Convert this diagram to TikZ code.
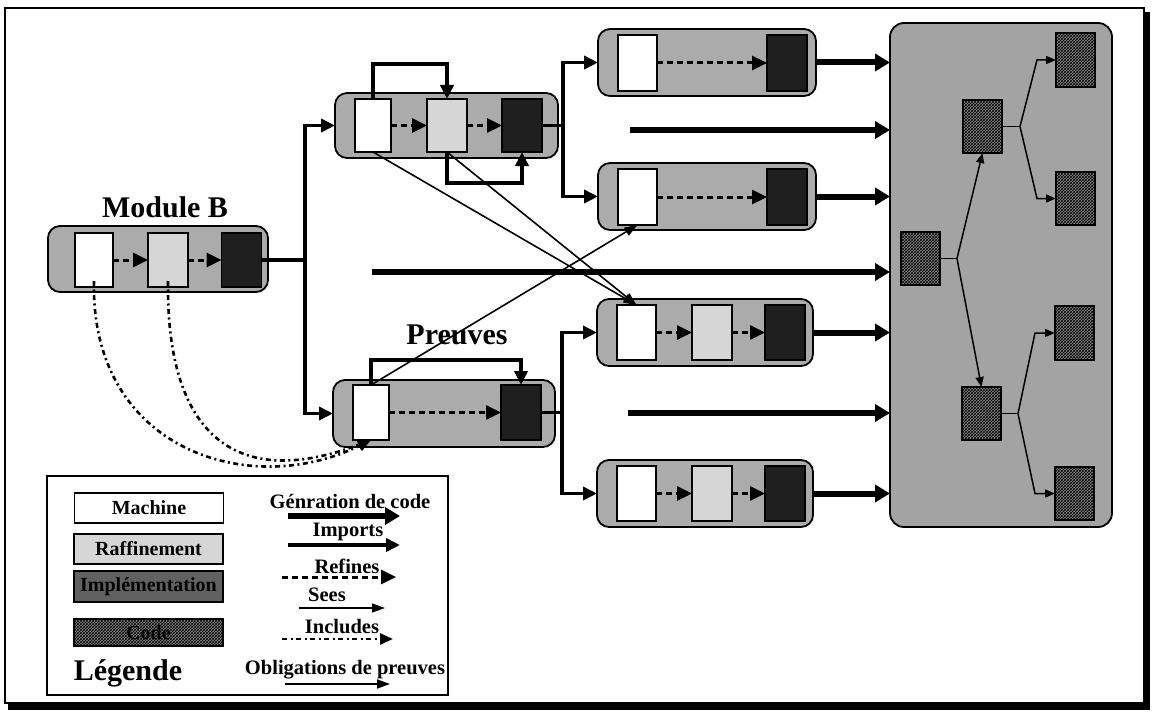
\documentclass[tikz,border=0pt]{standalone}
\usepackage{fontspec}
\setmainfont{Liberation Serif}
\usetikzlibrary{arrows.meta,patterns}
\begin{document}
\begin{tikzpicture}[x=1pt,y=-1pt,
 every node/.style={inner sep=0pt,outer sep=0pt},
 modbox/.style={draw,line width=1.8pt,rounded corners=12pt,fill=black!33},
 mach/.style={draw,line width=1.3pt,fill=white,minimum width=38pt,minimum height=54pt},
 refb/.style={draw,line width=1.3pt,fill=black!16,minimum width=40pt,minimum height=54pt},
 implb/.style={draw,line width=1.3pt,fill=black!88,minimum width=40pt,minimum height=54pt},
 codeb/.style={draw,line width=1.6pt,fill=black!45,postaction={pattern=crosshatch,pattern color=black},minimum width=39pt,minimum height=53pt},
 biglab/.style={font=\bfseries\fontsize{30}{33}\selectfont},
 leglab/.style={font=\bfseries\fontsize{20.5}{23}\selectfont},
 gen/.style={line width=6pt,-{Triangle[length=15pt,width=17pt]}},
 imp/.style={line width=3.5pt},
 impa/.style={imp,-{Triangle[length=14pt,width=13pt]}},
 refl/.style={line width=3pt,dash pattern=on 6pt off 4pt,-{Triangle[length=15pt,width=14pt]}},
 sees/.style={line width=1.6pt,-{Triangle[length=13pt,width=9pt]}},
 incl/.style={line width=2.6pt,dash pattern=on 5pt off 3.5pt on 2pt off 3.5pt,-{Triangle[length=13pt,width=11pt]}},
 cl/.style={line width=1.5pt},
 cla/.style={cl,-{Triangle[length=10pt,width=8pt]}},
 obl/.style={line width=1.8pt,-{Triangle[length=13pt,width=9pt]}}
]
\useasboundingbox (0,0) rectangle (1152,717);
% frame
\draw[line width=1.5pt] (5,8) rectangle (1144,703);
\draw[line width=5pt] (1147,12) -- (1147,709);
\draw[line width=6pt] (8,707) -- (1150,707);

% Module B
\node[biglab] (lblB) at (165,207) {Module B};
\node[modbox,minimum width=220pt,minimum height=66pt] (B) at (158,259) {};
\node[mach] (Bm) at (94,260) {};
\node[refb] (Br) at (168,260) {};
\node[implb] (Bi) at (241.5,260) {};
\draw[refl] (Bm.east) -- (Br.west);
\draw[refl] (Br.east) -- (Bi.west);

% Module M1
\node[modbox,minimum width=223pt,minimum height=65pt] (M1) at (446.5,125.5) {};
\node[mach,minimum width=36pt,minimum height=53pt] (M1m) at (373,125.5) {};
\node[refb,minimum height=53pt] (M1r) at (447,125.5) {};
\node[implb,minimum height=53pt] (M1i) at (522,125.5) {};
\draw[refl] (M1m.east) -- (M1r.west);
\draw[refl] (M1r.east) -- (M1i.west);
\draw[impa] (M1m.north) -- ++(0,-35) -| (M1r.north);
\draw[impa] (M1r.south) -- ++(0,31) -| (M1i.south);

% Preuves module
\node[biglab] (lblP) at (457,335) {Preuves};
\node[modbox,minimum width=222pt,minimum height=67pt] (P) at (444,413.5) {};
\node[mach,minimum width=36pt,minimum height=55pt] (Pm) at (371,412.5) {};
\node[implb,minimum height=55pt] (Pi) at (521,412.5) {};
\draw[refl] (Pm.east) -- (Pi.west);
\draw[impa] (Pm.north) -- ++(0,-25) -| (Pi.north);

% bus from Module B
\coordinate (busB) at (305,260);
\draw[imp] (Bi.east) -- (busB);
\draw[impa] (busB) |- (M1.west);
\draw[impa] (busB) |- (P.west);

% right modules
\node[modbox,minimum width=218pt,minimum height=67pt] (M2) at (707,62.5) {};
\node[mach,minimum width=39pt,minimum height=56pt] (M2m) at (637.5,63) {};
\node[implb,minimum height=56pt] (M2i) at (787,63) {};
\draw[refl] (M2m.east) -- (M2i.west);

\node[modbox,minimum width=218pt,minimum height=67pt] (M3) at (707,196.5) {};
\node[mach,minimum width=39pt,minimum height=56pt] (M3m) at (637.5,197) {};
\node[implb,minimum height=56pt] (M3i) at (787,197) {};
\draw[refl] (M3m.east) -- (M3i.west);

\node[modbox,minimum width=216pt,minimum height=67pt] (M4) at (705,332.5) {};
\node[mach,minimum width=39pt,minimum height=55pt] (M4m) at (636.5,332.5) {};
\node[refb,minimum height=55pt] (M4r) at (712,332.5) {};
\node[implb,minimum height=55pt] (M4i) at (785,332.5) {};
\draw[refl] (M4m.east) -- (M4r.west);
\draw[refl] (M4r.east) -- (M4i.west);

\node[modbox,minimum width=216pt,minimum height=67pt] (M5) at (705,493.5) {};
\node[mach,minimum width=39pt,minimum height=55pt] (M5m) at (636.5,493.5) {};
\node[refb,minimum height=55pt] (M5r) at (712,493.5) {};
\node[implb,minimum height=55pt] (M5i) at (785,493.5) {};
\draw[refl] (M5m.east) -- (M5r.west);
\draw[refl] (M5r.east) -- (M5i.west);

% buses to right modules
\coordinate (bus1) at (563,125.5);
\draw[imp] (M1i.east) -- (bus1);
\draw[impa] (bus1) |- (M2.west);
\draw[impa] (bus1) |- (M3.west);
\coordinate (bus2) at (562,412.5);
\draw[imp] (Pi.east) -- (bus2);
\draw[impa] (bus2) |- (M4.west);
\draw[impa] (bus2) |- (M5.west);

% code block
\node[modbox,rounded corners=14pt,minimum width=222pt,minimum height=504pt,fill=black!36] (CB) at (1001,275) {};
\node[codeb] (C0) at (920.5,258.5) {};
\node[codeb] (C1) at (982.5,126.5) {};
\node[codeb] (C2) at (981.5,413.5) {};
\node[codeb,minimum height=54pt] (C3) at (1075.5,60) {};
\node[codeb] (C4) at (1075.5,198.5) {};
\node[codeb,minimum height=54pt] (C5) at (1074.5,333) {};
\node[codeb] (C6) at (1074.5,493.5) {};
\coordinate (k0) at (957,258.5);
\draw[cl] (C0.east) -- (k0);
\draw[cla] (k0) -- (C1.south);
\draw[cla] (k0) -- (C2.north);
\coordinate (k1) at (1020,126.5);
\draw[cl] (C1.east) -- (k1);
\draw[cla] (k1) -- (1037,60) -- (C3.west);
\draw[cla] (k1) -- (1037,198.5) -- (C4.west);
\coordinate (k2) at (1018,413.5);
\draw[cl] (C2.east) -- (k2);
\draw[cla] (k2) -- (1035,333) -- (C5.west);
\draw[cla] (k2) -- (1035,493.5) -- (C6.west);

% code generation arrows
\draw[gen] (M2.east) -- (M2.east -| CB.west);
\draw[gen] (M3.east) -- (M3.east -| CB.west);
\draw[gen] (M4.east) -- (M4.east -| CB.west);
\draw[gen] (M5.east) -- (M5.east -| CB.west);
\coordinate (f1) at (630,130);
\coordinate (f2) at (372,272);
\coordinate (f3) at (628,413);
\draw[gen] (f1) -- (f1 -| CB.west);
\draw[gen] (f2) -- (f2 -| CB.west);
\draw[gen] (f3) -- (f3 -| CB.west);

% sees
\draw[sees] (M1m.south) -- (M4m.north);
\draw[sees] (M1r.south) -- (M4m.north);
\draw[sees] (Pm.north) -- (M3m.south);

% includes
\draw[incl] ([yshift=6pt]Bm.south) .. controls (90,450) and (250,500) .. (Pm.south);
\draw[incl] ([yshift=6pt]Br.south) .. controls (166,440) and (240,490) .. (Pm.south);

% legend
\node[draw,line width=2.6pt,minimum width=401pt,minimum height=219pt] (LG) at (247.5,585.5) {};
\node[mach,minimum width=149pt,minimum height=30pt,font=\bfseries\fontsize{20}{22}\selectfont] (LM) at (149,508) {Machine};
\node[refb,minimum width=149pt,minimum height=30pt,font=\bfseries\fontsize{20}{22}\selectfont] (LR) at (148.5,549) {Raffinement};
\node[implb,fill=black!62,minimum width=149pt,minimum height=31pt,font=\bfseries\fontsize{20}{22}\selectfont] (LI) at (148.5,586.5) {Implémentation};
\node[codeb,minimum width=149pt,minimum height=27pt,font=\bfseries\fontsize{20}{22}\selectfont] (LC) at (148.5,632.5) {Code};
\node[biglab] (LL) at (128,673) {Légende};

\node[leglab] (t1) at (350,501) {Génration de code};
\coordinate (g1) at (288,516); \coordinate (g2) at (400,516);
\draw[gen] (g1) -- (g2);
\node[leglab] (t2) at (348,532) {Imports};
\coordinate (i1) at (288,545); \coordinate (i2) at (400,545);
\draw[impa] (i1) -- (i2);
\node[leglab] (t3) at (347,566) {Refines};
\coordinate (r1) at (282,577); \coordinate (r2) at (396,577);
\draw[refl] (r1) -- (r2);
\node[leglab] (t4) at (327,595) {Sees};
\coordinate (s1) at (299,608); \coordinate (s2) at (385,608);
\draw[sees] (s1) -- (s2);
\node[leglab] (t5) at (342,627) {Includes};
\coordinate (n1) at (282,639); \coordinate (n2) at (393,639);
\draw[incl] (n1) -- (n2);
\node[leglab] (t6) at (345,670) {Obligations de preuves};
\coordinate (o1) at (285,684); \coordinate (o2) at (390,684);
\draw[obl] (o1) -- (o2);
\end{tikzpicture}
\end{document}
